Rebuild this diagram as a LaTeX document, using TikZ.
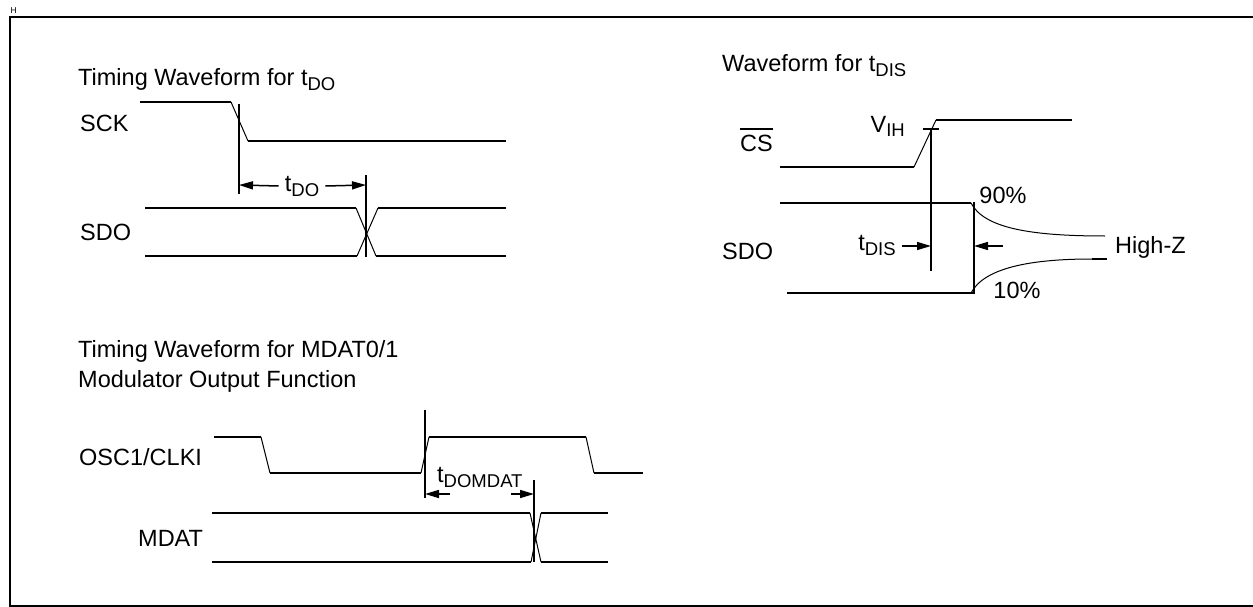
\documentclass[tikz,border=0pt]{standalone}
\usepackage{fontspec}
\setmainfont{Liberation Sans}
\usetikzlibrary{arrows.meta}
\newcommand{\tsub}[1]{\raisebox{-5pt}{\fontsize{18.5}{19}\selectfont #1}}
\tikzset{
	lbl/.style={inner sep=0pt, font=\fontsize{23.5}{27}\selectfont},
	lvl/.style={line width=2pt},
	edge/.style={line width=1pt},
	markline/.style={line width=2pt},
	dim/.style={line width=1.5pt, -{Triangle[length=14pt,width=8pt]}}
}
\begin{document}
\begin{tikzpicture}[x=1pt,y=-1pt]
	\useasboundingbox (0,0) rectangle (1253,607);
	\draw[line width=2pt] (1260,17.5) -- (9.5,17.5) -- (9.5,606) -- (1260,606);
	\node[inner sep=0pt, font=\fontsize{8.5}{9}\selectfont, anchor=west] (hdr) at (10.5,10.5) {H};

	% t_DO
	\node[lbl, anchor=base west] (ttldo) at (78,86) {Timing Waveform for t\tsub{DO}};
	\node[lbl, anchor=west] (sck) at (80,123) {SCK};
	\node[lbl, anchor=west] (sdoa) at (80,232) {SDO};
	\draw[lvl] (140,102) -- (231,102);
	\draw[edge] (231,102) -- (248,141);
	\draw[lvl] (248,141) -- (506,141);
	\draw[lvl] (145,208) -- (356,208);
	\draw[edge] (356,208) -- (376,256);
	\draw[lvl] (376,256) -- (506,256);
	\draw[lvl] (145,256) -- (357,256);
	\draw[edge] (357,256) -- (378,208);
	\draw[lvl] (378,208) -- (506,208);
	\draw[markline] (239,104) -- (239,194);
	\draw[markline] (366,175) -- (366,257);
	\coordinate (doa) at (239,185);
	\coordinate (dob) at (366,185);
	\node[lbl, inner xsep=6pt] (tdo) at (302,186) {t\tsub{DO}};
	\draw[dim] (tdo.west) -- (doa);
	\draw[dim] (tdo.east) -- (dob);

	% t_DIS
	\node[lbl, anchor=base west] (ttldis) at (722,72) {Waveform for t\tsub{DIS}};
	\node[lbl, anchor=base west] (cs) at (740,152) {CS};
	\draw[lvl] ([yshift=6pt]cs.north west) -- ([yshift=6pt]cs.north east);
	\node[lbl, anchor=west] (sdob) at (722,251) {SDO};
	\draw[lvl] (780,167) -- (914,167);
	\draw[edge] (914,167) -- (936,120);
	\draw[lvl] (936,120) -- (1072,120);
	\draw[line width=1.5pt] (923,129) -- (939,129);
	\node[lbl, anchor=base east] (vih) at (905,132) {V\tsub{IH}};
	\draw[markline] (931,129) -- (931,271);
	\draw[lvl] (780,203) -- (971,203);
	\draw[lvl] (787,293) -- (974,293);
	\draw[lvl] (974,202) -- (974,294);
	\draw[edge] (971,203) .. controls (984,228) and (1030,236) .. (1105,236);
	\draw[edge] (971,293) .. controls (984,268) and (1030,259) .. (1092,259);
	\draw[lvl] (1092,259) -- (1107,259);
	\node[lbl] (p90) at (1003,195) {90\%};
	\node[lbl] (p10) at (1017,290) {10\%};
	\node[lbl, anchor=west] (hiz) at (1115,247) {High-Z};
	\node[lbl, inner xsep=6pt] (tdis) at (877,245) {t\tsub{DIS}};
	\coordinate (disa) at (931,246);
	\coordinate (disb) at (974,246);
	\coordinate (disc) at (1003,246);
	\draw[dim] (tdis.east |- disa) -- (disa);
	\draw[dim] (disc) -- (disb);

	% t_DOMDAT
	\node[lbl, anchor=base west] (ttlmd) at (78,357) {Timing Waveform for MDAT0/1};
	\node[lbl, anchor=base west] (ttlmo) at (78,387) {Modulator Output Function};
	\node[lbl, anchor=west] (osc) at (79,457) {OSC1/CLKI};
	\node[lbl, anchor=west] (mdat) at (138,538) {MDAT};
	\draw[lvl] (214,437) -- (261,437);
	\draw[edge] (261,437) -- (270,473);
	\draw[lvl] (270,473) -- (421,473);
	\draw[edge] (421,473) -- (429,437);
	\draw[lvl] (429,437) -- (586,437);
	\draw[edge] (586,437) -- (594,473);
	\draw[lvl] (594,473) -- (643,473);
	\draw[line width=1.5pt] (212,513) -- (530,513);
	\draw[edge] (530,513) -- (541,562);
	\draw[lvl] (541,562) -- (608,562);
	\draw[lvl] (212,562) -- (531,562);
	\draw[edge] (531,562) -- (541,513);
	\draw[lvl] (541,513) -- (608,513);
	\draw[markline] (425,410) -- (425,498);
	\draw[markline] (534,480) -- (534,562);
	\node[lbl, anchor=base west] (tmd) at (437,482) {t\tsub{DOMDAT}};
	\coordinate (mda) at (425,494);
	\coordinate (mdb) at (534,494);
	\coordinate (mdc) at (450,494);
	\coordinate (mdd) at (511,494);
	\draw[dim] (mdc) -- (mda);
	\draw[dim] (mdd) -- (mdb);
\end{tikzpicture}
\end{document}
